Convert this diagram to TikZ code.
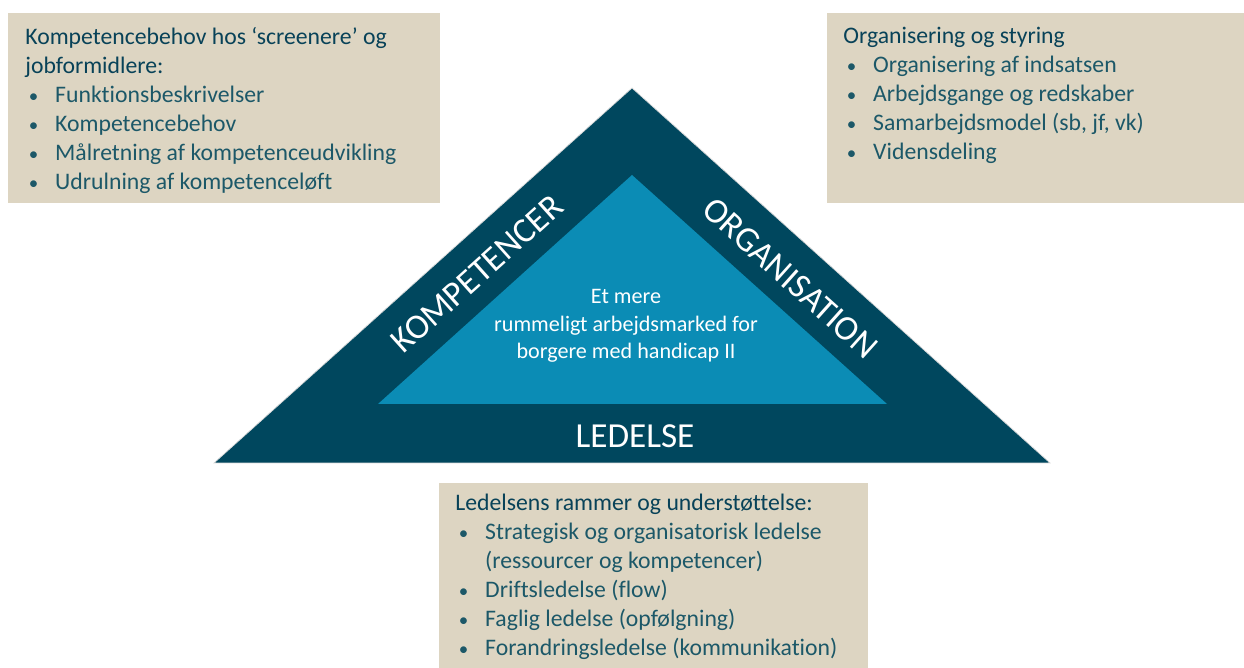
\documentclass[tikz,border=0pt]{standalone}
\usepackage{fontspec}
\setmainfont{Carlito}[Ligatures=NoCommon]
\definecolor{boksfarve}{RGB}{221,213,194}
\definecolor{overskrift}{RGB}{8,66,88}
\definecolor{tekstfarve}{RGB}{28,88,104}
\definecolor{ydre}{RGB}{0,71,94}
\definecolor{indre}{RGB}{11,140,181}

\begin{document}
\begin{tikzpicture}[x=0.02cm,y=-0.02cm]
\useasboundingbox (0,0) rectangle (1244,668);
% stilarter for bokse og tekst
\tikzstyle{boks} = [fill=boksfarve];
\tikzstyle{liste} = [anchor=north west,inner sep=0,align=left,text=tekstfarve,
  font=\fontsize{13.5}{16.5}\selectfont];
\tikzstyle{hoved} = [text=white,font=\fontsize{20}{24}\selectfont];
% punkt i en liste
% #1: teksten efter punktet
\newcommand{\punkt}[1]{\hspace*{2pt}\makebox[15pt][l]{\scalebox{0.8}{\textbullet}}#1}
% overskrift i en boks
% #1: teksten
\newcommand{\titel}[1]{\textcolor{overskrift}{#1}}
% tegn trekanter
\coordinate (T1) at (632,88);
\coordinate (T2) at (214,463);
\coordinate (T3) at (1050,463);
\coordinate (I1) at (632,175);
\coordinate (I2) at (378,404);
\coordinate (I3) at (887,404);
\filldraw[fill=ydre,draw=black!15] (T1) -- (T2) -- (T3) -- cycle;
\fill[indre] (I1) -- (I2) -- (I3) -- cycle;
% tekst i trekanten
\node[hoved,rotate=41.9] (komp) at (477,274) {KOMPETENCER};
\node[hoved,rotate=-41.9] (org) at (790,278) {ORGANISATION};
\node[hoved] (led) at (635,436) {LEDELSE};
\node[text=white,align=center,font=\fontsize{12.6}{15.6}\selectfont] (maal) at (626,326)
  {Et mere\\rummeligt arbejdsmarked for\\borgere med handicap II};
% tegn bokse
\fill[boks] (8,13) rectangle (440,203);
\fill[boks] (827,13) rectangle (1244,203);
\fill[boks] (439,483) rectangle (868,668);
% tekst i boksene
\node[liste] (kompliste) at (25,27) {\titel{Kompetencebehov hos ‘screenere’ og}\\
  \titel{jobformidlere:}\\
  \punkt{Funktionsbeskrivelser}\\
  \punkt{Kompetencebehov}\\
  \punkt{Målretning af kompetenceudvikling}\\
  \punkt{Udrulning af kompetenceløft}};
\node[liste] (orgliste) at (843,27) {\titel{Organisering og styring}\\
  \punkt{Organisering af indsatsen}\\
  \punkt{Arbejdsgange og redskaber}\\
  \punkt{Samarbejdsmodel (sb, jf, vk)}\\
  \punkt{Vidensdeling}};
\node[liste] (ledliste) at (455,494) {\titel{Ledelsens rammer og understøttelse:}\\
  \punkt{Strategisk og organisatorisk ledelse}\\
  \hspace*{17pt}(ressourcer og kompetencer)\\
  \punkt{Driftsledelse (flow)}\\
  \punkt{Faglig ledelse (opfølgning)}\\
  \punkt{Forandringsledelse (kommunikation)}};
\end{tikzpicture}
\end{document}
